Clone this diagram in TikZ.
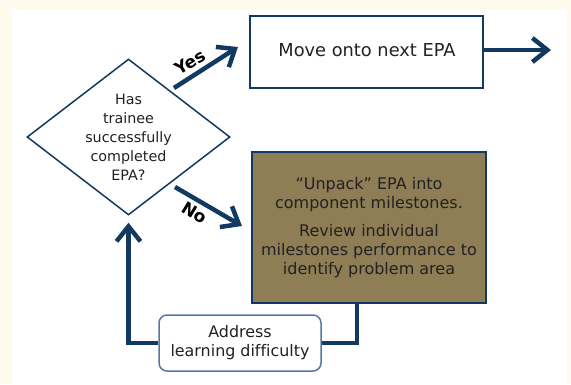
\documentclass[tikz,border=0pt]{standalone}
\usepackage{fontspec}
\setmainfont{DejaVu Sans}[Ligatures=NoCommon]
\usetikzlibrary{shapes.geometric,arrows.meta,calc}
\definecolor{navy}{RGB}{18,58,96}
\definecolor{olive}{RGB}{142,125,85}
\definecolor{addrblue}{RGB}{84,119,168}
\definecolor{cream}{RGB}{255,251,236}
\definecolor{txt}{RGB}{34,34,34}
\begin{document}
\begin{tikzpicture}[x=1pt,y=-1pt,
  flow/.style={draw=navy,line width=4.5pt,-{Straight Barb[length=15pt,width=24pt]}},
  plainline/.style={draw=navy,line width=4.5pt},
  lbl/.style={font=\fontsize{17}{20}\selectfont\bfseries,text=black,inner sep=0pt},
  boxtxt/.style={text=txt,align=center,inner sep=0pt}]
\useasboundingbox (0,0) rectangle (571,384);
\fill[cream] (0,0) rectangle (571,384);
\fill[white] (12,9) rectangle (567,384);
% decision
\node[draw=navy,line width=1.5pt,diamond,minimum width=203pt,minimum height=156pt,inner sep=0pt,fill=white] (q) at (128.5,137) {};
\node[boxtxt,font=\fontsize{14.3}{19}\selectfont] (qt) at (q) {Has\\trainee\\successfully\\completed\\EPA?};
% move onto
\node[draw=navy,line width=2pt,minimum width=233pt,minimum height=72pt,inner sep=0pt,fill=white] (mv) at (366.5,52) {};
\node[boxtxt,font=\fontsize{17.8}{20}\selectfont] (mvt) at (367,50) {Move onto next EPA};
% unpack
\node[draw=navy,line width=2.2pt,fill=olive,minimum width=234pt,minimum height=151pt,inner sep=0pt] (un) at (369,227.5) {};
\node[boxtxt,font=\fontsize{16}{19}\selectfont] (unt) at (un) {\textquotedblleft Unpack\textquotedblright\ EPA into\\component milestones.\\[9pt]Review individual\\milestones performance to\\identify problem area};
% address
\node[draw=addrblue,line width=1.5pt,rounded corners=8pt,fill=white,minimum width=162pt,minimum height=56pt,inner sep=0pt] (ad) at (240,343) {};
\node[boxtxt,font=\fontsize{15.9}{19}\selectfont] (adt) at (ad) {Address\\learning difficulty};
% connector coordinates
\coordinate (ys) at (174,88);
\coordinate (ye) at (238,47);
\coordinate (ns) at (175,187);
\coordinate (ne) at (242,226);
\coordinate (out) at (551,50);
\coordinate (fbx) at (357,0);
% connectors
\draw[flow] (ys) -- (ye);
\draw[flow] (ns) -- (ne);
\draw[flow] (mv.east |- out) -- (out);
\draw[plainline] (un.south -| fbx) |- (ad.east);
\draw[flow] (ad.west) -| ($(q.south)+(0,7)$);
% labels
\node[lbl,rotate=31] (yes) at (190,62) {Yes};
\node[lbl,rotate=-31] (no) at (195,213) {No};
\end{tikzpicture}
\end{document}
